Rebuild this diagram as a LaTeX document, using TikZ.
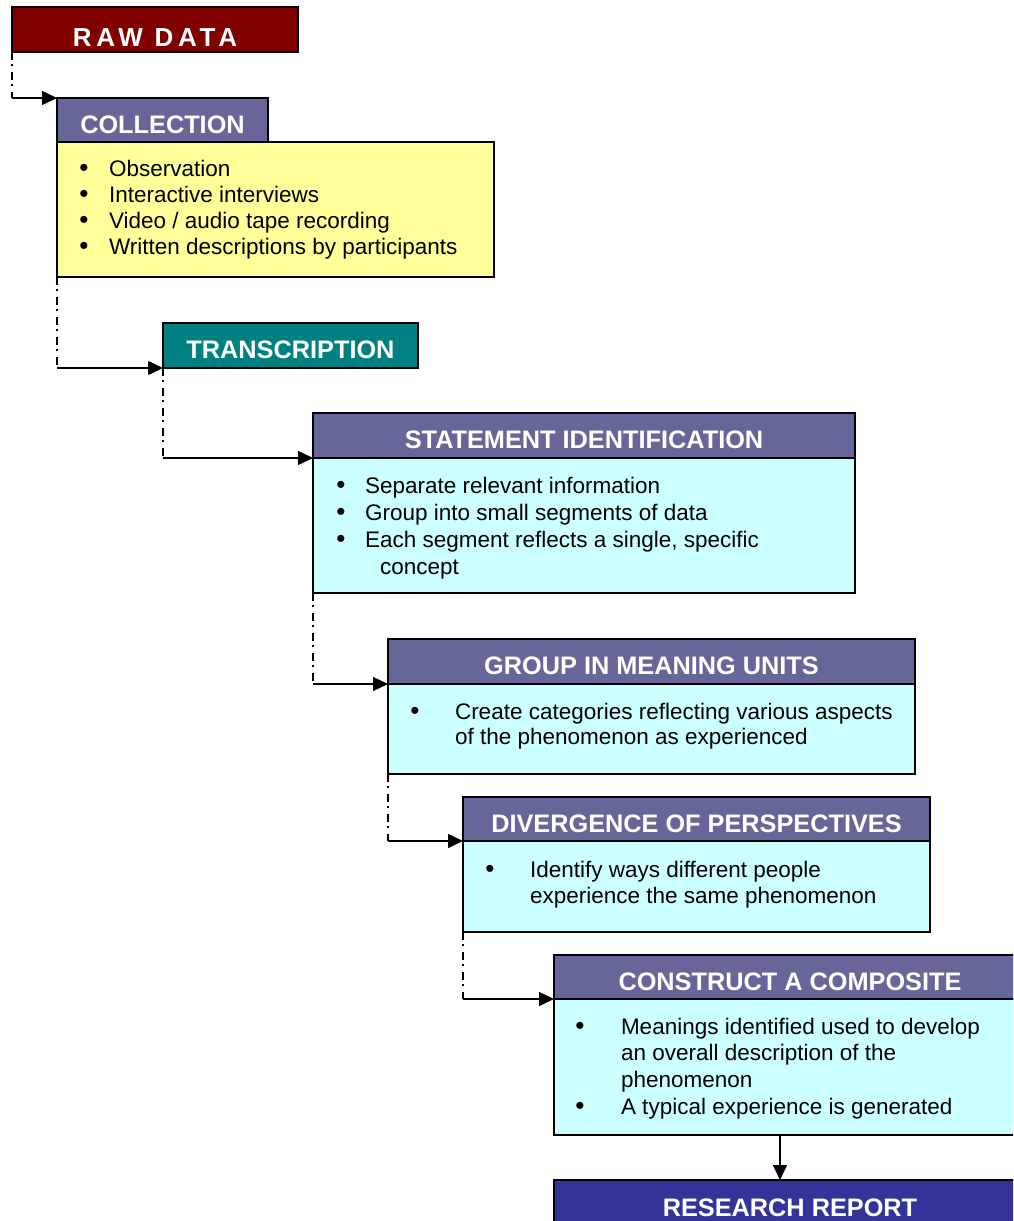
\documentclass[tikz,border=0pt]{standalone}
\usepackage{fontspec}
\setmainfont{Liberation Sans}
\newfontfamily\rawfont[LetterSpace=18]{Liberation Sans}
\usetikzlibrary{arrows.meta}

\definecolor{rawred}{HTML}{800000}
\definecolor{slate}{HTML}{666699}
\definecolor{tealbox}{HTML}{008080}
\definecolor{reportblue}{HTML}{333399}
\definecolor{paleyellow}{HTML}{FFFF99}
\definecolor{palecyan}{HTML}{CCFFFF}

\tikzset{
  box/.style={draw=black, line width=1.6pt, rectangle, inner sep=0pt, outer sep=0pt, anchor=north west},
  header/.style={box, text=white, font=\bfseries\fontsize{25.3}{30}\selectfont,
                 text height=26.5pt, text depth=0pt},
  bodybox/.style={box},
  bodytext/.style={inner sep=0pt, outer sep=0pt, font=\fontsize{22.5}{27}\selectfont},
  bullettext/.style={inner sep=0pt, outer sep=0pt, font=\fontsize{26}{30}\selectfont},
  flowdash/.style={line width=1.5pt, dash pattern=on 8pt off 4pt on 2pt off 6pt},
  flowarrow/.style={line width=1.5pt, -{Triangle[length=15pt,width=14pt]}},
}

% one bullet and one line of text, set on a given baseline
\newcommand\bdot[3]{\node[bullettext, anchor=base] (#1) at (#2,#3) {\textbullet};}
\newcommand\bline[4]{\node[bodytext, anchor=base west] (#1) at (#2,#3) {#4};}

\begin{document}
\begin{tikzpicture}[x=1pt, y=-1pt]
  \clip (0,0) rectangle (1013,1221);
  \fill[white] (0,0) rectangle (1013,1221);

  % ---- boxes ----
  \node[box, fill=rawred, text=white, minimum width=286pt, minimum height=45pt,
        font=\rawfont\bfseries\fontsize{26}{30}\selectfont, text height=33pt, text depth=0pt]
        (raw) at (12,7) {RAW DATA};

  \node[header, fill=slate, minimum width=211pt, minimum height=44pt] (collh) at (57,98) {COLLECTION};
  \node[bodybox, fill=paleyellow, minimum width=437pt, minimum height=135pt] (collb) at (57,142) {};

  \node[header, fill=tealbox, minimum width=255pt, minimum height=45pt] (trans) at (163,323) {TRANSCRIPTION};

  \node[header, fill=slate, minimum width=542pt, minimum height=45pt] (stmth) at (313,413) {STATEMENT IDENTIFICATION};
  \node[bodybox, fill=palecyan, minimum width=542pt, minimum height=135pt] (stmtb) at (313,458) {};

  \node[header, fill=slate, minimum width=527pt, minimum height=45pt] (grouph) at (388,639) {GROUP IN MEANING UNITS};
  \node[bodybox, fill=palecyan, minimum width=527pt, minimum height=90pt] (groupb) at (388,684) {};

  \node[header, fill=slate, minimum width=467pt, minimum height=44pt] (divh) at (463,797) {DIVERGENCE OF PERSPECTIVES};
  \node[bodybox, fill=palecyan, minimum width=467pt, minimum height=91pt] (divb) at (463,841) {};

  \node[header, fill=slate, minimum width=472pt, minimum height=44pt] (consh) at (554,955) {CONSTRUCT A COMPOSITE};
  \node[bodybox, fill=palecyan, minimum width=472pt, minimum height=136pt] (consb) at (554,999) {};

  \node[header, fill=reportblue, minimum width=472pt, minimum height=45pt, text height=27pt] (report) at (554,1180) {RESEARCH REPORT};

  % ---- body texts ----
  \bdot{c1d}{84}{176}\bline{c1}{109}{176}{Observation}
  \bdot{c2d}{84}{202}\bline{c2}{109}{202}{Interactive interviews}
  \bdot{c3d}{84}{228}\bline{c3}{109}{228}{Video / audio tape recording}
  \bdot{c4d}{84}{254}\bline{c4}{109}{254}{Written descriptions by participants}

  \bdot{s1d}{341}{493}\bline{s1}{365}{493}{Separate relevant information}
  \bdot{s2d}{341}{520}\bline{s2}{365}{520}{Group into small segments of data}
  \bdot{s3d}{341}{547}\bline{s3}{365}{547}{Each segment reflects a single, specific}
  \bline{s4}{380}{574}{concept}

  \bdot{g1d}{415}{719}\bline{g1}{455}{719}{Create categories reflecting various aspects}
  \bline{g2}{455}{744}{of the phenomenon as experienced}

  \bdot{d1d}{490}{877}\bline{d1}{530}{877}{Identify ways different people}
  \bline{d2}{530}{903}{experience the same phenomenon}

  \bdot{k1d}{580}{1034}\bline{k1}{621}{1034}{Meanings identified used to develop}
  \bline{k2}{621}{1060}{an overall description of the}
  \bline{k3}{621}{1087}{phenomenon}
  \bdot{k4d}{580}{1114}\bline{k4}{621}{1114}{A typical experience is generated}

  % ---- connectors ----
  \coordinate (j1) at (raw.south west |- collh.north west);
  \draw[flowdash] (raw.south west) -- (j1);
  \draw[flowarrow] (j1) -- (collh.north west);

  \coordinate (j2) at (collb.south west |- trans.south west);
  \draw[flowdash] (collb.south west) -- (j2);
  \draw[flowarrow] (j2) -- (trans.south west);

  \coordinate (j3) at (trans.south west |- stmth.south west);
  \draw[flowdash] (trans.south west) -- (j3);
  \draw[flowarrow] (j3) -- (stmth.south west);

  \coordinate (j4) at (stmtb.south west |- grouph.south west);
  \draw[flowdash] (stmtb.south west) -- (j4);
  \draw[flowarrow] (j4) -- (grouph.south west);

  \coordinate (j5) at (groupb.south west |- divh.south west);
  \draw[flowdash] (groupb.south west) -- (j5);
  \draw[flowarrow] (j5) -- (divh.south west);

  \coordinate (j6) at (divb.south west |- consh.south west);
  \draw[flowdash] (divb.south west) -- (j6);
  \draw[flowarrow] (j6) -- (consh.south west);

  \coordinate (j7) at (780,1135);
  \draw[flowarrow] (j7) -- (j7 |- report.north);
\end{tikzpicture}
\end{document}
